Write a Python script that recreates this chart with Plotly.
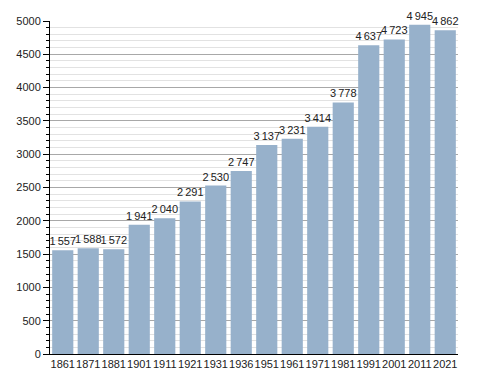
import plotly.graph_objects as go

years = ["1861", "1871", "1881", "1901", "1911", "1921", "1931", "1936",
         "1951", "1961", "1971", "1981", "1991", "2001", "2011", "2021"]
population = [1557, 1588, 1572, 1941, 2040, 2291, 2530, 2747,
              3137, 3231, 3414, 3778, 4637, 4723, 4945, 4862]

def fmt(v):
    s = f"{v:,}"
    return s.replace(",", "\u2009")

labels = [fmt(v) for v in population]

fig = go.Figure(go.Bar(
    x=years, y=population,
    text=labels, textposition="outside",
    constraintext="none",
    textfont=dict(size=11, color="#222222", family="Liberation Sans, Arial, sans-serif"),
    marker=dict(color="#97b1cb", line=dict(width=0)),
    cliponaxis=False,
))

fig.update_layout(
    width=488, height=373,
    margin=dict(l=50, r=30, t=21, b=19, autoexpand=False),
    paper_bgcolor="white", plot_bgcolor="white",
    bargap=0.17,
    font=dict(family="Liberation Sans, Arial, sans-serif", size=11, color="#222222"),
    showlegend=False,
)
fig.update_xaxes(
    type="category",
    showline=True, linecolor="black", linewidth=1,
    ticks="", showgrid=False,
    tickangle=0, automargin=False,
    tickfont=dict(size=11, color="#222222"),
)
fig.update_yaxes(
    range=[0, 5000], tick0=0, dtick=500,
    showline=True, linecolor="black", linewidth=1,
    ticks="outside", ticklen=6, tickcolor="black", tickwidth=1,
    showgrid=True, gridcolor="#a8a8a8", gridwidth=1,
    minor=dict(dtick=100, showgrid=True, gridcolor="#e2e2e2", gridwidth=1,
               ticks="outside", ticklen=3, tickcolor="black"),
    tickfont=dict(size=11, color="#222222"),
    zeroline=False, automargin=False,
    layer="below traces",
)
fig.write_html("out.html", config={"displayModeBar": False, "staticPlot": True},
               post_script="document.body.style.margin='0';")
